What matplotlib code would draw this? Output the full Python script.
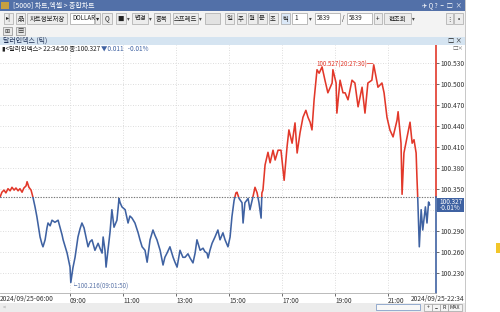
import matplotlib
matplotlib.use('Agg')
import matplotlib.pyplot as plt
from matplotlib.patches import Rectangle

plt.rcParams['font.family'] = ['Noto Sans CJK KR', 'DejaVu Sans']

# ---------------- data (hours of day, price) ----------------
times = [6.36, 6.43, 6.51, 6.58, 6.66, 6.74, 6.81, 6.89, 6.96, 7.04, 7.11, 7.19, 7.26, 7.34, 7.38,
         7.45, 7.53, 7.60, 7.68, 7.75, 7.83, 7.87, 7.94, 7.98, 8.06, 8.13, 8.17, 8.25, 8.32, 8.43,
         8.55, 8.62, 8.70, 8.74, 8.81, 8.89, 8.96, 9.00, 9.03, 9.07, 9.11, 9.19, 9.26, 9.30, 9.38,
         9.45, 9.53, 9.57, 9.68, 9.75, 9.83, 9.94, 10.06, 10.13, 10.21, 10.25, 10.32, 10.36, 10.43,
         10.51, 10.58, 10.66, 10.77, 10.85, 10.89, 10.96, 11.08, 11.19, 11.26, 11.34, 11.45, 11.57,
         11.64, 11.72, 11.83, 11.91, 12.02, 12.13, 12.21, 12.28, 12.40, 12.51, 12.58, 12.66, 12.77,
         12.89, 12.96, 13.04, 13.15, 13.26, 13.34, 13.45, 13.53, 13.64, 13.72, 13.79, 13.91, 14.02,
         14.09, 14.17, 14.21, 14.28, 14.36, 14.47, 14.58, 14.66, 14.77, 14.85, 14.96, 15.04, 15.11,
         15.19, 15.26, 15.30, 15.38, 15.49, 15.53, 15.60, 15.72, 15.79, 15.90, 15.98, 16.06, 16.13,
         16.21, 16.24, 16.28, 16.36, 16.47, 16.55, 16.66, 16.74, 16.85, 16.96, 17.08, 17.19, 17.26,
         17.38, 17.49, 17.57, 17.68, 17.79, 17.90, 17.98, 18.06, 18.13, 18.21, 18.32, 18.40, 18.51,
         18.62, 18.73, 18.89, 18.92, 19.04, 19.07, 19.19, 19.30, 19.38, 19.49, 19.64, 19.75, 19.87,
         20.02, 20.13, 20.24, 20.39, 20.46, 20.62, 20.77, 20.85, 20.96, 21.07, 21.19, 21.34, 21.38,
         21.49, 21.53, 21.60, 21.72, 21.83, 21.91, 21.98, 22.06, 22.09, 22.12, 22.15, 22.18, 22.25,
         22.31, 22.41, 22.47, 22.53, 22.57]
prices = [100.338, 100.345, 100.348, 100.344, 100.350, 100.347, 100.352, 100.348, 100.351, 100.347,
          100.350, 100.345, 100.351, 100.354, 100.360, 100.352, 100.348, 100.338, 100.324, 100.310,
          100.291, 100.281, 100.271, 100.267, 100.277, 100.294, 100.301, 100.297, 100.305, 100.302,
          100.305, 100.295, 100.284, 100.277, 100.268, 100.258, 100.245, 100.238, 100.216, 100.227,
          100.237, 100.252, 100.270, 100.281, 100.293, 100.301, 100.294, 100.287, 100.267, 100.274,
          100.277, 100.262, 100.272, 100.265, 100.258, 100.281, 100.262, 100.238, 100.262, 100.288,
          100.320, 100.295, 100.305, 100.336, 100.330, 100.324, 100.320, 100.301, 100.311, 100.308,
          100.301, 100.287, 100.277, 100.267, 100.262, 100.245, 100.277, 100.291, 100.283, 100.277,
          100.262, 100.241, 100.252, 100.258, 100.267, 100.252, 100.245, 100.238, 100.262, 100.252,
          100.252, 100.257, 100.251, 100.244, 100.258, 100.277, 100.262, 100.265, 100.260, 100.258,
          100.251, 100.262, 100.272, 100.281, 100.291, 100.277, 100.287, 100.277, 100.267, 100.281,
          100.310, 100.333, 100.344, 100.345, 100.336, 100.330, 100.301, 100.330, 100.336, 100.320,
          100.338, 100.352, 100.344, 100.330, 100.308, 100.344, 100.348, 100.384, 100.402, 100.387,
          100.405, 100.391, 100.405, 100.405, 100.362, 100.410, 100.434, 100.415, 100.444, 100.401,
          100.430, 100.452, 100.462, 100.452, 100.445, 100.434, 100.477, 100.520, 100.515, 100.524,
          100.505, 100.487, 100.501, 100.520, 100.501, 100.458, 100.505, 100.487, 100.487, 100.477,
          100.505, 100.501, 100.467, 100.495, 100.458, 100.501, 100.505, 100.527, 100.495, 100.501,
          100.487, 100.452, 100.434, 100.424, 100.448, 100.460, 100.415, 100.342, 100.401, 100.424,
          100.445, 100.415, 100.420, 100.401, 100.367, 100.338, 100.301, 100.267, 100.320, 100.291,
          100.324, 100.301, 100.331, 100.327]
prev_close = 100.338
last_price = 100.327
y_ticks = [100.230, 100.260, 100.290, 100.320, 100.350, 100.380, 100.410, 100.440, 100.470, 100.500, 100.530]
y_labels = ["100.230", "100.260", "100.290", "", "100.350", "100.380", "100.410", "100.440", "100.470", "100.500", "100.530"]
x_ticks = [9, 11, 13, 15, 17, 19, 21]
x_labels = ["09:00", "11:00", "13:00", "15:00", "17:00", "19:00", "21:00"]

RED = '#e2382a'
BLUE = '#3f62a2'
W, H = 500, 312

fig = plt.figure(figsize=(W / 100, H / 100), dpi=100)
fig.patch.set_facecolor('white')


def prect(x0, y0, x1, y1, fc, ec='none', lw=0.5, z=1):
    fig.add_artist(Rectangle((x0 / W, 1 - y1 / H), (x1 - x0) / W, (y1 - y0) / H,
                             transform=fig.transFigure, facecolor=fc, edgecolor=ec,
                             linewidth=lw, zorder=z))


def ptext(x, y, s, size=5, color='#222222', ha='left', **kw):
    fig.text(x / W, 1 - y / H, s, fontsize=size, color=color, ha=ha, va='center', **kw)


# ---------------- window chrome ----------------
prect(0, 0, 465, 11, '#5270a8')
prect(1, 2, 9, 9, '#c8a040')
ptext(13, 5.5, '[5000] 차트,엑셀 > 종합차트', size=5, color='white')
ptext(462, 5.5, '✈ Q ?  −  □  ×', size=4.5, color='white', ha='right')
prect(0, 11, 465, 37, '#f3f3f3')


def button(x0, x1, label, fc='#ececec', drop=False):
    prect(x0, 13, x1, 24, fc, ec='#a8a8a8', lw=0.5, z=2)
    if label:
        ptext((x0 + x1) / 2, 18.5, label, size=4.6, ha='center', zorder=3)
    if drop:
        ptext(x1 + 2.5, 18.5, '▾', size=4, ha='center', color='#444444')


button(4, 13, '▸|')
button(16, 25, '品')
button(27, 67, '차트정보저장')
prect(70, 13, 94, 24, 'white', ec='#a0a0a0', z=2)
ptext(72, 18.5, 'DOLLAR', size=4.4)
button(95, 100, '▾')
button(102, 112, 'Q')
button(116, 126, '■', drop=True)
button(132, 148, '변경', drop=True)
button(154, 170, '중복')
button(173, 198, '스프레드', drop=True)
button(205, 220, '', fc='#e2e2e2')
for xc, lab in [(229, '일'), (241, '주'), (252, '월'), (262, '분'), (273, '초')]:
    button(xc - 4.5, xc + 4.5, lab)
button(281, 290, '틱', fc='#dbe8f7')
prect(292, 13, 307, 24, 'white', ec='#a0a0a0', z=2)
ptext(294, 18.5, '1', size=4.6)
ptext(310, 18.5, '▾', size=4, ha='center', color='#444444')
prect(315, 13, 340, 24, 'white', ec='#a0a0a0', z=2)
ptext(317, 18.5, '5839', size=4.4)
ptext(343, 18.5, '/', size=4.6, ha='center')
prect(347, 13, 372, 24, 'white', ec='#a0a0a0', z=2)
ptext(349, 18.5, '5839', size=4.4)
button(374, 382, '+')
button(384, 411, '현조회', drop=True)
button(446, 453, '⋮')
button(454, 463, '•')
prect(3, 27, 12, 35, '#e8e8e8', ec='#8c8c8c', z=2)
prect(16, 27, 25, 35, '#e8e8e8', ec='#8c8c8c', z=2)
ptext(7.5, 31, '⊞', size=4.5, ha='center', color='#333333')
ptext(20.5, 31, '▤', size=4.5, ha='center', color='#333333')
prect(0, 37, 465, 45, '#d5e4f1')
ptext(3, 41, '달러인덱스 (틱)', size=5, color='#1f2f55')
ptext(462, 41, '□ ×', size=4.5, color='#222222', ha='right')
ptext(2, 49, '▮<달러인덱스> 22:34:50 종:100.327', size=4.6, color='#222222')
ptext(101, 49, '▼0.011   -0.01%', size=4.6, color=BLUE)
ptext(463, 49, '□×', size=4, color='#666666', ha='right')
# bottom scroll bar
prect(0, 303, 465, 312, '#ececec')
ptext(3, 307.5, '<', size=4, color='#999999')
prect(376, 304, 420, 310, '#f8f8f8', ec='#7090c0', z=2)
for xc, lab in [(428, '+'), (436, '−'), (444, 'R'), (455, 'MAX')]:
    w = 4 if lab != 'MAX' else 7
    prect(xc - w, 304, xc + w, 311, '#f4f4f4', ec='#a0a0a0', z=2)
    ptext(xc, 307.5, lab, size=3.8, ha='center', zorder=3)
# window border / yellow marker outside
prect(465, 0, 466, 312, '#c8c8c8')
prect(496, 243, 500, 253, '#f2c629')

# ---------------- chart ----------------
x_left, x_right = 6.358, 22.81
y_bot, y_top = 100.201, 100.5553
ax = fig.add_axes([0, 19 / H, 436 / W, 248 / H])
ax.set_facecolor('none')
ax.set_xlim(x_left, x_right)
ax.set_ylim(y_bot, y_top)

ax.set_yticks(y_ticks)
ax.set_yticklabels(y_labels)
ax.yaxis.tick_right()
ax.tick_params(axis='y', length=2, width=0.5, pad=1.5, labelsize=4.8, colors='#333333')
ax.set_xticks(x_ticks)
ax.set_xticklabels(x_labels)
ax.tick_params(axis='x', length=2, width=0.5, pad=1, labelsize=4.8, colors='#333333', direction='out')
for lbl in ax.get_xticklabels():
    lbl.set_ha('left')
for s in ['top', 'left', 'right']:
    ax.spines[s].set_visible(False)
ax.spines['bottom'].set_color('#b0b0b0')
ax.spines['bottom'].set_linewidth(0.6)
ax.grid(True, linestyle=(0, (1, 2)), color='#d2d2d2', linewidth=0.6)

# previous close dotted line
ax.axhline(prev_close, color='#777777', linestyle=(0, (1.2, 1.2)), linewidth=0.8, zorder=2)

# price line: red above previous close, blue below
top_clip = Rectangle((x_left, prev_close), x_right - x_left, y_top - prev_close + 1, transform=ax.transData)
bot_clip = Rectangle((x_left, y_bot - 1), x_right - x_left, prev_close - y_bot + 1, transform=ax.transData)
l_red, = ax.plot(times, prices, color=RED, linewidth=1.15, zorder=3)
l_red.set_clip_path(top_clip)
l_blue, = ax.plot(times, prices, color=BLUE, linewidth=1.15, zorder=3)
l_blue.set_clip_path(bot_clip)

# right axis line coloured by side
frac = (prev_close - y_bot) / (y_top - y_bot)
ax.axvline(x_right, ymin=frac, ymax=1, color=RED, linewidth=1.2, clip_on=False)
ax.axvline(x_right, ymin=0, ymax=frac, color=BLUE, linewidth=1.2, clip_on=False)

# annotations
i_min = prices.index(min(prices))
i_max = prices.index(max(prices))
ax.text(times[i_min], prices[i_min] - 0.0065, '└%.3f(09:01:50)' % prices[i_min],
        fontsize=4.5, color='#5a74a8', ha='left', va='center')
ax.text(times[i_max], prices[i_max], '%.3f(20:27:30)─' % prices[i_max],
        fontsize=4.5, color=RED, ha='right', va='center')

# last-price box
ybox = 312 - (19 + (last_price - y_bot) / (y_top - y_bot) * 248)
prect(437, ybox - 7, 464, ybox + 7, BLUE, z=4)
ptext(450.5, ybox - 3, '%.3f' % last_price, size=4.6, color='white', ha='center', zorder=5)
ptext(450.5, ybox + 3.5, '-0.01%', size=4.6, color='white', ha='center', zorder=5)

# x-axis end labels
ptext(0, 299, '2024/09/25-06:00', size=4.8, color='#333333')
ptext(464, 299, '2024/09/25-22:34', size=4.8, color='#333333', ha='right')

fig.savefig('out.png', dpi=100)
